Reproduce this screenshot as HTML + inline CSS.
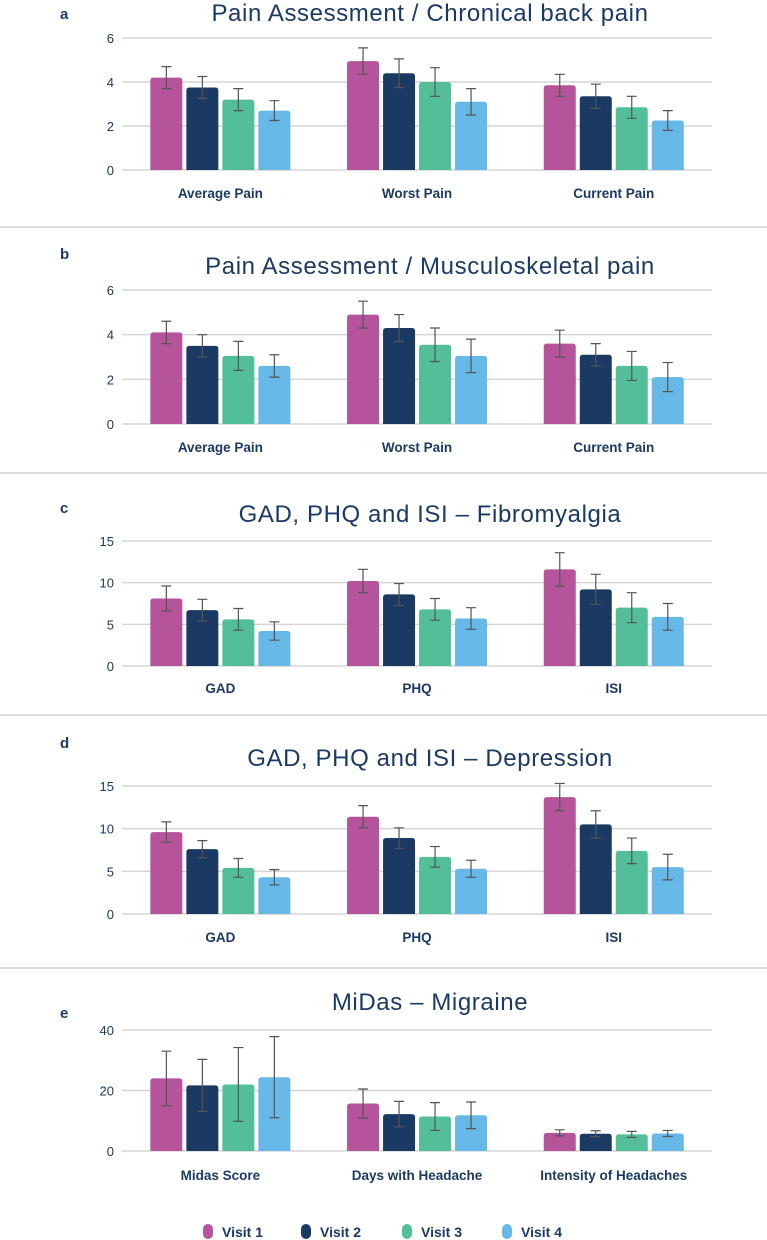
<!DOCTYPE html>
<html><head><meta charset="utf-8"><style>
html,body{margin:0;padding:0;background:#fff;}
svg{display:block;font-family:"Liberation Sans",sans-serif;}
</style></head><body>
<svg id="chart" width="767" height="1240" viewBox="0 0 767 1240" xmlns="http://www.w3.org/2000/svg"></svg>
<script>
// ---- data ----
const visits = ["Visit 1","Visit 2","Visit 3","Visit 4"];
const colors = ["#b5549b","#1a3a63","#52bf99","#66b8e6"];

const aTitle = "Pain Assessment / Chronical back pain";
const aCats = ["Average Pain","Worst Pain","Current Pain"];
const aVals = [[4.2,3.75,3.2,2.7],[4.95,4.4,4.0,3.1],[3.85,3.35,2.85,2.25]];
const aErr  = [[0.5,0.5,0.5,0.45],[0.6,0.65,0.65,0.6],[0.5,0.55,0.5,0.45]];
const aTicks = [0,2,4,6];

const bTitle = "Pain Assessment / Musculoskeletal pain";
const bCats = ["Average Pain","Worst Pain","Current Pain"];
const bVals = [[4.1,3.5,3.05,2.6],[4.9,4.3,3.55,3.05],[3.6,3.1,2.6,2.1]];
const bErr  = [[0.5,0.5,0.65,0.5],[0.6,0.6,0.75,0.75],[0.6,0.5,0.65,0.65]];
const bTicks = [0,2,4,6];

const cTitle = "GAD, PHQ and ISI – Fibromyalgia";
const cCats = ["GAD","PHQ","ISI"];
const cVals = [[8.1,6.7,5.6,4.2],[10.2,8.6,6.8,5.7],[11.6,9.2,7.0,5.9]];
const cErr  = [[1.5,1.3,1.3,1.1],[1.4,1.3,1.3,1.3],[2.0,1.8,1.8,1.6]];
const cTicks = [0,5,10,15];

const dTitle = "GAD, PHQ and ISI – Depression";
const dCats = ["GAD","PHQ","ISI"];
const dVals = [[9.6,7.6,5.4,4.3],[11.4,8.9,6.7,5.3],[13.7,10.5,7.4,5.5]];
const dErr  = [[1.2,1.0,1.1,0.9],[1.3,1.2,1.2,1.0],[1.6,1.6,1.5,1.5]];
const dTicks = [0,5,10,15];

const eTitle = "MiDas – Migraine";
const eCats = ["Midas Score","Days with Headache","Intensity of Headaches"];
const eVals = [[24.0,21.7,22.0,24.4],[15.7,12.2,11.4,11.8],[6.0,5.7,5.5,5.8]];
const eErr  = [[9.0,8.6,12.2,13.4],[4.8,4.2,4.6,4.4],[1.0,1.0,1.0,1.0]];
const eTicks = [0,20,40];

// ---- layout ----
const panels = [
 {id:"a",title:aTitle,cats:aCats,vals:aVals,err:aErr,ticks:aTicks,letterY:19,titleY:21,top:38,bottom:170,labY:198,sep:227},
 {id:"b",title:bTitle,cats:bCats,vals:bVals,err:bErr,ticks:bTicks,letterY:259,titleY:274,top:290,bottom:424,labY:452,sep:473},
 {id:"c",title:cTitle,cats:cCats,vals:cVals,err:cErr,ticks:cTicks,letterY:513,titleY:522,top:541,bottom:666,labY:693,sep:715},
 {id:"d",title:dTitle,cats:dCats,vals:dVals,err:dErr,ticks:dTicks,letterY:748,titleY:766,top:786,bottom:914,labY:942,sep:968},
 {id:"e",title:eTitle,cats:eCats,vals:eVals,err:eErr,ticks:eTicks,letterY:1018,titleY:1010,top:1030,bottom:1151,labY:1180,sep:null}
];
const svg = document.getElementById("chart");
const NS = "http://www.w3.org/2000/svg";
function mk(tag, attrs, parent){const e=document.createElementNS(NS,tag);for(const k in attrs)e.setAttribute(k,attrs[k]);(parent||svg).appendChild(e);return e;}
const xL=122,xR=712,groupW=196.7,barW=32,barGap=4;
const TXT="#1b3a63";

panels.forEach(p=>{
  const g=mk("g",{});
  
  
  const maxT=p.ticks[p.ticks.length-1];
  const y=v=>p.bottom-(v/maxT)*(p.bottom-p.top);
  const lt=mk("text",{x:60,y:p.letterY,"font-size":15,"font-weight":"bold",fill:TXT},g);lt.textContent=p.id;
  
  
  const tt=mk("text",{x:430,y:p.titleY,"font-size":24,"letter-spacing":0.6,"text-anchor":"middle",fill:TXT},g);tt.textContent=p.title;
  
  
  p.ticks.forEach(t=>{
    const gl=mk("line",{x1:xL,x2:xR,y1:y(t),y2:y(t),stroke:"#d6d6d6","stroke-width":1.5},g);
    
    
    const tl=mk("text",{x:114,y:y(t)+5,"font-size":13,"text-anchor":"end",fill:TXT},g);tl.textContent=t;
    
    
  });
  p.cats.forEach((c,ci)=>{
    const cx=xL+groupW*(ci+0.5);
    const x0=cx-(4*barW+3*barGap)/2;
    p.vals[ci].forEach((v,vi)=>{
      const bx=x0+vi*(barW+barGap);
      const top=y(v);
      const r=mk("path",{d:`M${bx},${p.bottom}V${top+3}Q${bx},${top} ${bx+3},${top}H${bx+barW-3}Q${bx+barW},${top} ${bx+barW},${top+3}V${p.bottom}Z`,fill:colors[vi]},g);
      
      
      const e=p.err[ci][vi],mx=bx+barW/2;
      const eb=mk("path",{d:`M${mx},${y(v+e)}V${y(v-e)}M${mx-5},${y(v+e)}H${mx+5}M${mx-5},${y(v-e)}H${mx+5}`,stroke:"#555","stroke-width":1.2,fill:"none"},g);
      
      
    });
    const cl=mk("text",{x:cx,y:p.labY,"font-size":13.5,"font-weight":"bold","text-anchor":"middle",fill:TXT},g);cl.textContent=c;
    
    
  });
  if(p.sep){const s=mk("line",{x1:0,x2:767,y1:p.sep,y2:p.sep,stroke:"#d0d0d0","stroke-width":1.5},g);
    
    }
});
// legend
const legX=[203,301,402,502];
visits.forEach((v,i)=>{
  const lg=mk("g",{});
  
  
  mk("rect",{x:legX[i],y:1224,width:10,height:15,rx:5,fill:colors[i]},lg);
  const t=mk("text",{x:legX[i]+19,y:1237,"font-size":14,"font-weight":"bold",fill:TXT},lg);t.textContent=v;
});
</script>
</body></html>
